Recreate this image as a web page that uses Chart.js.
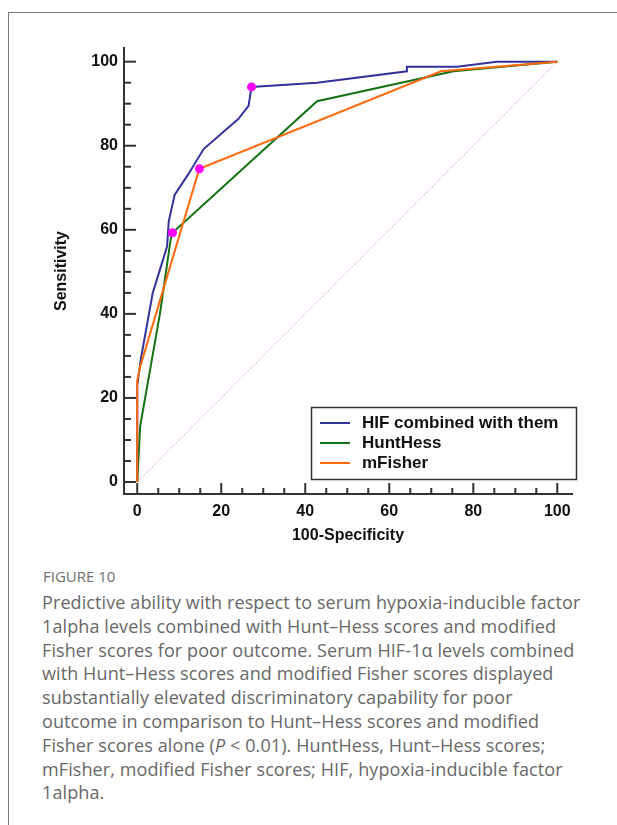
<!DOCTYPE html>
<html>
<head>
<meta charset="utf-8">
<script src="https://cdn.jsdelivr.net/npm/chart.js@4.4.1/dist/chart.umd.min.js"></script>
<style>
  body { margin: 0; background: #fff; width: 617px; height: 825px; overflow: hidden; position: relative; }
  #frame { position: absolute; left: 8px; top: 12px; width: 640px; height: 840px; border-top: 1px solid #7a7a7a; border-left: 1px solid #7a7a7a; }
  #wrap { position: absolute; left: 0; top: 0; width: 617px; height: 560px; }
  #figlabel { position: absolute; left: 43px; top: 566px; font: 500 15px "Open Sans", sans-serif; color: #6f6f6f; }
  #caption { position: absolute; left: 42px; top: 591px; font: 400 18px/23.8px "Open Sans", sans-serif; letter-spacing: 0.1px; color: #686868; white-space: nowrap; }
</style>
</head>
<body>
<div id="frame"></div>
<div id="wrap"><canvas id="roc" width="617" height="560"></canvas></div>
<div id="figlabel">FIGURE 10</div>
<div id="caption">Predictive ability with respect to serum hypoxia-inducible factor<br>1alpha levels combined with Hunt–Hess scores and modified<br>Fisher scores for poor outcome. Serum HIF-1α levels combined<br>with Hunt–Hess scores and modified Fisher scores displayed<br>substantially elevated discriminatory capability for poor<br>outcome in comparison to Hunt–Hess scores and modified<br>Fisher scores alone (<i>P</i> &lt; 0.01). HuntHess, Hunt–Hess scores;<br>mFisher, modified Fisher scores; HIF, hypoxia-inducible factor<br>1alpha.</div>
<script>
// valores (100-especificidad, sensibilidad)
const hifX = [0, 0, 0.9, 3.7, 7.1, 7.5, 8.9, 12.2, 15.8, 24.1, 26.5, 27.2, 42.8, 64.2, 64.2, 76.1, 85.6, 100];
const hifY = [0, 23, 29.5, 45, 56, 62, 68.3, 73.3, 79.2, 86.4, 89.5, 94, 95, 97.7, 98.8, 98.8, 100, 100];
const huntHessX = [0, 0.7, 5.4, 8.0, 8.4, 42.8, 75.3, 100];
const huntHessY = [0, 13.3, 40, 58, 59.3, 90.6, 97.7, 100];
const mFisherX = [0, 0, 0.7, 14.2, 14.8, 72.3, 100];
const mFisherY = [0, 24.2, 27.4, 72.6, 74.5, 97.7, 100];
const cutX = [27.2, 14.8, 8.4];
const cutY = [94, 74.5, 59.3];
const diagX = [0, 100];
const diagY = [0, 100];

const seriesNames = ["HIF combined with them", "HuntHess", "mFisher"];
const seriesColors = ["#33339a", "#137313", "#ff6a0e"];
const tickValues = [0, 20, 40, 60, 80, 100];
const minorStep = 5;

const pts = (xs, ys) => xs.map((v, i) => ({ x: v, y: ys[i] }));

Chart.defaults.font.family = "'Liberation Sans', Arial, sans-serif";

// marcas de eje hacia dentro (mayores y menores)
const axisTicks = {
  id: "axisTicks",
  afterDraw(chart) {
    const { ctx, chartArea, scales: { x, y } } = chart;
    ctx.save();
    ctx.strokeStyle = "#333";
    ctx.lineWidth = 2;
    for (let v = 0; v <= 100; v += minorStep) {
      const major = tickValues.includes(v);
      const px = x.getPixelForValue(v);
      ctx.beginPath();
      ctx.moveTo(px, chartArea.bottom);
      ctx.lineTo(px, chartArea.bottom - (major ? 11 : 6));
      ctx.stroke();
      const py = y.getPixelForValue(v);
      ctx.beginPath();
      ctx.moveTo(chartArea.left, py);
      ctx.lineTo(chartArea.left + (major ? 12 : 7), py);
      ctx.stroke();
    }
    ctx.restore();
  }
};

// leyenda con recuadro dentro del grafico
const boxLegend = {
  id: "boxLegend",
  afterDraw(chart) {
    const ctx = chart.ctx;
    ctx.save();
    ctx.strokeStyle = "#333";
    ctx.lineWidth = 1.5;
    ctx.strokeRect(311.5, 407.5, 265, 72);
    ctx.font = "bold 17px 'Liberation Sans', Arial, sans-serif";
    ctx.textBaseline = "middle";
    seriesNames.forEach((name, i) => {
      const yy = 423 + i * 20;
      ctx.strokeStyle = seriesColors[i];
      ctx.lineWidth = 2;
      ctx.beginPath();
      ctx.moveTo(320, yy);
      ctx.lineTo(350, yy);
      ctx.stroke();
      ctx.fillStyle = "#111";
      ctx.fillText(name, 362, yy);
    });
    ctx.restore();
  }
};

const lineDs = (label, xs, ys, color, order) => ({
  label, data: pts(xs, ys), borderColor: color, backgroundColor: color,
  borderWidth: 2, pointRadius: 0, tension: 0, order
});

new Chart(document.getElementById("roc"), {
  type: "line",
  data: {
    datasets: [
      { label: "cutoff", data: pts(cutX, cutY), showLine: false, pointRadius: 4.5,
        pointBackgroundColor: "#ff00ff", pointBorderColor: "#ff00ff", pointBorderWidth: 0, order: 0 },
      lineDs(seriesNames[2], mFisherX, mFisherY, seriesColors[2], 1),
      lineDs(seriesNames[0], hifX, hifY, seriesColors[0], 2),
      lineDs(seriesNames[1], huntHessX, huntHessY, seriesColors[1], 3),
      { label: "ref", data: pts(diagX, diagY), borderColor: "rgba(215,120,100,0.6)",
        borderWidth: 1, borderDash: [2, 1], pointRadius: 0, order: 4 }
    ]
  },
  options: {
    responsive: false,
    animation: false,
    layout: { padding: { left: 52, right: 45, top: 48, bottom: 15 } },
    plugins: { legend: { display: false }, tooltip: { enabled: false } },
    scales: {
      x: {
        type: "linear", min: -3.15, max: 103.5,
        afterBuildTicks: s => { s.ticks = tickValues.map(v => ({ value: v })); },
        afterFit: s => { s.height = 51; },
        grid: { display: false, drawTicks: false },
        border: { display: true, color: "#333", width: 2 },
        ticks: { color: "#111", font: { size: 16, weight: "bold" }, padding: 8, maxRotation: 0 },
        title: { display: true, text: "100-Specificity", color: "#111", font: { size: 16, weight: "bold" }, padding: 0 }
      },
      y: {
        type: "linear", min: -2.85, max: 103.25,
        afterBuildTicks: s => { s.ticks = tickValues.map(v => ({ value: v })); },
        afterFit: s => { s.width = 72; },
        grid: { display: false, drawTicks: false },
        border: { display: true, color: "#333", width: 2 },
        ticks: { color: "#111", font: { size: 16, weight: "bold" }, padding: 6 },
        title: { display: true, text: "Sensitivity", color: "#111", font: { size: 16, weight: "bold" }, padding: 0 }
      }
    }
  },
  plugins: [axisTicks, boxLegend]
});
</script>
</body>
</html>
